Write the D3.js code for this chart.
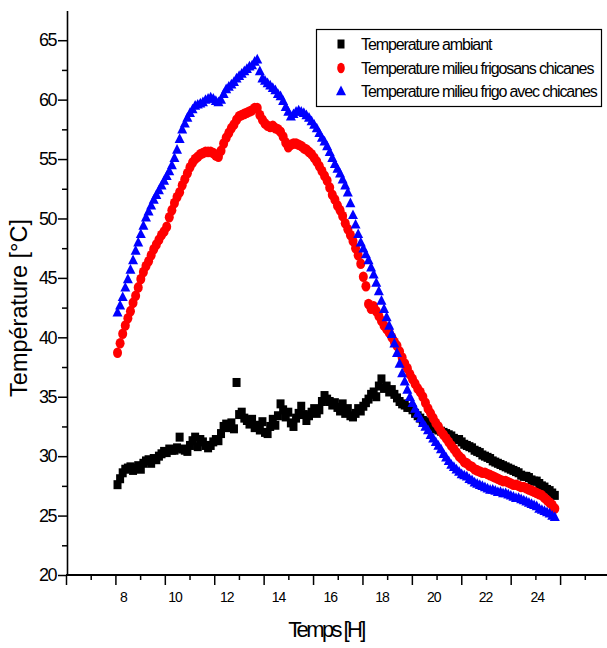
<!DOCTYPE html>
<html>
<head>
<meta charset="utf-8">
<script src="https://cdn.jsdelivr.net/npm/d3@7"></script>
<style>
  body { margin: 0; background: #fff; }
  svg { font-family: "Liberation Sans", Arial, sans-serif; }
</style>
</head>
<body>
<div id="chart"></div>
<script>
// Heure de mesure (H)
const hours = [
  7.8, 7.9,
  8.0, 8.1, 8.2, 8.3, 8.4, 8.5, 8.6, 8.7, 8.8, 8.9,
  9.0, 9.1, 9.2, 9.3, 9.4, 9.5, 9.6, 9.7, 9.8, 9.9,
  10.0, 10.1, 10.2, 10.3, 10.4, 10.5, 10.6, 10.7, 10.8, 10.9,
  11.0, 11.1, 11.2, 11.3, 11.4, 11.5, 11.6, 11.7, 11.8, 11.9,
  12.0, 12.1, 12.2, 12.3, 12.4, 12.5, 12.6, 12.7, 12.8, 12.9,
  13.0, 13.1, 13.2, 13.3, 13.4, 13.5, 13.6, 13.7, 13.8, 13.9,
  14.0, 14.1, 14.2, 14.3, 14.4, 14.5, 14.6, 14.7, 14.8, 14.9,
  15.0, 15.1, 15.2, 15.3, 15.4, 15.5, 15.6, 15.7, 15.8, 15.9,
  16.0, 16.1, 16.2, 16.3, 16.4, 16.5, 16.6, 16.7, 16.8, 16.9,
  17.0, 17.1, 17.2, 17.3, 17.4, 17.5, 17.6, 17.7, 17.8, 17.9,
  18.0, 18.1, 18.2, 18.3, 18.4, 18.5, 18.6, 18.7, 18.8, 18.9,
  19.0, 19.1, 19.2, 19.3, 19.4, 19.5, 19.6, 19.7, 19.8, 19.9,
  20.0, 20.1, 20.2, 20.3, 20.4, 20.5, 20.6, 20.7, 20.8, 20.9,
  21.0, 21.1, 21.2, 21.3, 21.4, 21.5, 21.6, 21.7, 21.8, 21.9,
  22.0, 22.1, 22.2, 22.3, 22.4, 22.5, 22.6, 22.7, 22.8, 22.9,
  23.0, 23.1, 23.2, 23.3, 23.4, 23.5, 23.6, 23.7, 23.8, 23.9,
  24.0, 24.1, 24.2, 24.3, 24.4, 24.5, 24.6, 24.7
];

// Temperature ambiant
const ambiant = [
  27.6, 28.1,
  28.6, 28.9, 29.0, 29.1, 28.8, 29.0, 29.2, 28.9, 29.4, 29.6,
  29.7, 29.4, 29.8, 29.7, 30.0, 30.2, 30.4, 30.3, 30.6, 30.5,
  30.5, 30.7, 31.6, 30.6, 30.5, 30.4, 30.9, 31.3, 31.6, 30.8,
  31.4, 31.2, 30.9, 30.7, 30.9, 31.2, 31.4, 31.3, 31.9, 32.5,
  32.7, 32.4, 32.8, 32.3, 36.2, 33.5, 33.7, 33.2, 33.0, 32.7,
  33.1, 32.4, 32.6, 32.2, 32.9, 32.0, 31.9, 32.5, 33.1, 32.6,
  33.4, 34.4, 33.9, 33.3, 33.7, 32.8, 32.5, 33.2, 33.6, 34.2,
  33.5, 33.0, 33.4, 33.7, 34.0, 33.6, 33.9, 34.6, 35.1, 34.8,
  34.6, 34.3, 34.5, 34.1, 33.8, 34.4, 33.6, 34.0, 33.4, 33.3,
  33.6, 34.0, 33.8, 34.2, 34.5, 34.8, 35.2, 35.4, 35.0, 35.9,
  36.5, 35.7, 35.9, 35.4, 35.6, 35.2, 34.9, 34.6, 34.4, 34.3,
  34.1, 34.1, 33.9, 33.6, 33.4, 33.2, 33.0, 32.9, 32.7, 32.6,
  32.5, 32.3, 32.2, 32.1, 32.0, 31.9, 31.8, 31.7, 31.5, 31.4,
  31.4, 31.2, 31.0, 30.9, 30.8, 30.7, 30.5, 30.4, 30.3, 30.1,
  30.0, 29.9, 29.8, 29.6, 29.5, 29.4, 29.3, 29.2, 29.1, 29.0,
  28.9, 28.8, 28.7, 28.6, 28.4, 28.3, 28.3, 28.2, 28.0, 27.9,
  27.9, 27.7, 27.5, 27.4, 27.2, 27.1, 26.9, 26.7
];

// Temperature milieu frigo sans chicanes
const sansChicanes = [
  38.7, 39.5,
  40.3, 41.0, 41.6, 42.2, 42.9, 43.5, 44.2, 44.9, 45.5, 46.0,
  46.4, 46.9, 47.4, 47.8, 48.2, 48.6, 48.9, 49.3, 50.1, 50.7,
  51.3, 51.8, 52.2, 52.8, 53.3, 53.8, 54.3, 54.7, 55.0, 55.2,
  55.4, 55.5, 55.6, 55.6, 55.6, 55.5, 55.3, 55.2, 55.7, 56.3,
  56.8, 57.2, 57.6, 57.9, 58.3, 58.6, 58.7, 58.8, 58.9, 59.0,
  59.1, 59.3, 59.3, 58.7, 58.3, 58.0, 57.8, 57.7, 57.8, 57.6,
  57.5, 57.3, 56.9, 56.4, 56.0, 56.2, 56.3, 56.3, 56.2, 56.1,
  55.9, 55.8, 55.6, 55.4, 55.1, 54.8, 54.4, 54.0, 53.6, 53.2,
  52.6, 52.0, 51.6, 51.1, 50.7, 50.2, 49.6, 49.1, 48.6, 48.1,
  47.5, 46.9, 46.2, 45.1, 44.3, 42.8, 42.4, 42.6, 42.2, 41.8,
  41.4, 41.0, 40.7, 40.4, 40.0, 39.6, 39.3, 38.8, 38.3, 37.8,
  37.4, 36.9, 36.5, 36.1, 35.7, 35.4, 35.0, 34.5, 34.0, 33.6,
  33.2, 32.8, 32.5, 32.1, 31.8, 31.5, 31.2, 30.9, 30.6, 30.3,
  30.0, 29.8, 29.5, 29.4, 29.2, 29.1, 28.9, 28.8, 28.7, 28.6,
  28.6, 28.5, 28.4, 28.3, 28.2, 28.1, 28.0, 27.9, 27.9, 27.8,
  27.7, 27.6, 27.6, 27.5, 27.4, 27.4, 27.3, 27.2, 27.1, 27.0,
  26.9, 26.8, 26.7, 26.5, 26.3, 26.1, 25.9, 25.6
];

// Temperature milieu frigo avec chicanes
const avecChicanes = [
  42.1, 42.7,
  43.4, 44.2, 44.9, 45.7, 46.5, 47.3, 48.0, 48.7, 49.4, 50.1,
  50.6, 51.1, 51.6, 52.0, 52.4, 52.8, 53.2, 53.6, 54.0, 54.5,
  55.1, 55.8, 56.7, 57.5, 58.0, 58.5, 58.9, 59.2, 59.5, 59.6,
  59.7, 59.8, 60.0, 60.1, 60.2, 60.1, 59.9, 59.8, 60.0, 60.5,
  60.9, 61.1, 61.3, 61.5, 61.8, 62.0, 62.2, 62.4, 62.6, 62.8,
  62.9, 63.2, 63.4, 62.4, 61.8, 61.6, 61.4, 61.2, 61.0, 60.8,
  60.5, 60.3, 59.9, 59.4, 59.0, 58.6, 58.8, 59.0, 59.1, 59.0,
  58.9, 58.7, 58.5, 58.2, 57.9, 57.6, 57.2, 56.8, 56.5, 56.1,
  55.6, 55.1, 54.6, 54.2, 53.8, 53.3, 52.8, 52.2, 51.3, 50.3,
  49.5, 48.7, 48.0, 47.5, 47.0, 46.5, 45.9, 45.3, 44.6, 43.9,
  43.1, 42.4, 41.7, 41.0, 40.3, 39.5, 38.7, 37.8, 37.0, 36.3,
  35.6, 35.0, 34.5, 34.0, 33.6, 33.2, 32.8, 32.5, 32.2, 31.8,
  31.5, 31.2, 30.9, 30.6, 30.2, 29.9, 29.6, 29.3, 29.1, 28.9,
  28.7, 28.5, 28.4, 28.3, 28.1, 28.0, 27.8, 27.7, 27.6, 27.5,
  27.4, 27.3, 27.2, 27.2, 27.1, 27.0, 27.0, 26.9, 26.9, 26.8,
  26.7, 26.6, 26.5, 26.5, 26.4, 26.3, 26.2, 26.1, 26.0, 25.9,
  25.8, 25.6, 25.5, 25.4, 25.3, 25.2, 25.0, 24.9
];

const seriesNames = [
  "Temperature ambiant",
  "Temperature milieu frigosans chicanes",
  "Temperature milieu frigo avec chicanes"
];
const seriesColors = ["#000000", "#ff0000", "#0000ff"];

const yMajorTicks = [20, 25, 30, 35, 40, 45, 50, 55, 60, 65];
const yMinorTicks = [22.5, 27.5, 32.5, 37.5, 42.5, 47.5, 52.5, 57.5, 62.5];
const xLabelTicks = [8, 10, 12, 14, 16, 18, 20, 22, 24];
const xMajorTicks = [6, 8, 10, 12, 14, 16, 18, 20, 22, 24, 26, 28];
const xMinorTicks = [7, 9, 11, 13, 15, 17, 19, 21, 23, 25, 27];

const width = 607;
const height = 648;
const marginLeft = 67;
const marginTop = 10;
const marginBottom = 73;

const svg = d3.create("svg")
  .attr("width", width)
  .attr("height", height)
  .attr("viewBox", [0, 0, width, height]);
d3.select("#chart").append(() => svg.node());

// y scale
const y = d3.scaleLinear()
  .domain([20, 67.5])
  .range([height - marginBottom, marginTop + 0.5]);

// tick marks of the x axis (as drawn in the original figure)
const xAxisScale = d3.scaleLinear()
  .domain([6, 28])
  .range([marginLeft - 1, 609.5]);

// labels and data of the x axis
const x = d3.scaleLinear()
  .domain([8, 24])
  .range([122.7, 536.7]);

const rows = hours.map((h, i) => ({
  h, amb: ambiant[i], sans: sansChicanes[i], avec: avecChicanes[i]
}));

// points
const gData = svg.append("g");

gData.append("g")
  .attr("fill", seriesColors[0])
  .selectAll()
  .data(rows)
  .join("rect")
  .attr("x", d => x(d.h) - 4)
  .attr("y", d => y(d.amb) - 4.5)
  .attr("width", 8)
  .attr("height", 9);

gData.append("g")
  .attr("fill", seriesColors[1])
  .selectAll()
  .data(rows)
  .join("ellipse")
  .attr("cx", d => x(d.h))
  .attr("cy", d => y(d.sans))
  .attr("rx", 4.5)
  .attr("ry", 5.3);

gData.append("g")
  .attr("fill", seriesColors[2])
  .selectAll()
  .data(rows)
  .join("path")
  .attr("transform", d => `translate(${x(d.h)},${y(d.avec)})`)
  .attr("d", "M0,-5.5L5,4.2L-5,4.2Z");

// x axis: line and tick marks
svg.append("g")
  .attr("transform", `translate(0,${height - marginBottom})`)
  .call(d3.axisBottom(xAxisScale).tickValues(xMajorTicks).tickSize(10).tickSizeOuter(0).tickFormat(""))
  .call(g => g.select(".domain").attr("stroke-width", 2).attr("d", `M${marginLeft - 1},0H${width}`))
  .call(g => g.selectAll(".tick line").attr("stroke-width", 1.5));

svg.append("g")
  .attr("transform", `translate(0,${height - marginBottom})`)
  .call(d3.axisBottom(xAxisScale).tickValues(xMinorTicks).tickSize(5).tickFormat(""))
  .call(g => g.select(".domain").remove())
  .call(g => g.selectAll(".tick line").attr("stroke-width", 1.5));

// x axis labels
svg.append("g")
  .attr("transform", `translate(0,${height - marginBottom})`)
  .call(d3.axisBottom(x).tickValues(xLabelTicks).tickSize(0).tickPadding(17))
  .call(g => g.select(".domain").remove())
  .call(g => g.selectAll(".tick text")
    .attr("font-family", "Liberation Sans, Arial, sans-serif")
    .attr("font-size", 14)
    .attr("letter-spacing", -1.2)
    .attr("fill", "#000"));

// y axis
svg.append("g")
  .attr("transform", `translate(${marginLeft},0)`)
  .call(d3.axisLeft(y).tickValues(yMajorTicks).tickSize(9).tickSizeOuter(0).tickPadding(2))
  .call(g => g.select(".domain").attr("stroke-width", 1.6))
  .call(g => g.selectAll(".tick line").attr("stroke-width", 1.5))
  .call(g => g.selectAll(".tick text")
    .attr("font-family", "Liberation Sans, Arial, sans-serif")
    .attr("font-size", 18)
    .attr("letter-spacing", -1.5)
    .attr("fill", "#000"));

svg.append("g")
  .attr("transform", `translate(${marginLeft},0)`)
  .call(d3.axisLeft(y).tickValues(yMinorTicks).tickSize(5).tickFormat(""))
  .call(g => g.select(".domain").remove())
  .call(g => g.selectAll(".tick line").attr("stroke-width", 1.5));

// axis titles
svg.append("text")
  .attr("x", 326)
  .attr("y", 637)
  .attr("text-anchor", "middle")
  .attr("font-size", 22)
  .attr("letter-spacing", -2.6)
  .text("Temps [H]");

svg.append("text")
  .attr("transform", "translate(27,308) rotate(-90)")
  .attr("text-anchor", "middle")
  .attr("font-size", 23.5)
  .text("Température [°C]");

// legend
const legend = svg.append("g");
legend.append("rect")
  .attr("x", 316.5)
  .attr("y", 29.5)
  .attr("width", 285)
  .attr("height", 77)
  .attr("fill", "#fff")
  .attr("stroke", "#000")
  .attr("stroke-width", 1.2);

const legendRows = [44, 68, 91];
seriesNames.forEach((name, i) => {
  const gy = legendRows[i];
  const g = legend.append("g").attr("transform", `translate(341,${gy})`);
  if (i === 0) {
    g.append("rect").attr("x", -3.5).attr("y", -4.5).attr("width", 7).attr("height", 9).attr("fill", seriesColors[0]);
  } else if (i === 1) {
    g.append("ellipse").attr("rx", 3.8).attr("ry", 5.2).attr("fill", seriesColors[1]);
  } else {
    g.append("path").attr("d", "M0,-5.5L5,4.2L-5,4.2Z").attr("fill", seriesColors[2]);
  }
  legend.append("text")
    .attr("x", 361)
    .attr("y", gy + 6)
    .attr("font-size", 16)
    .attr("letter-spacing", -1.1)
    .text(name);
});
</script>
</body>
</html>
